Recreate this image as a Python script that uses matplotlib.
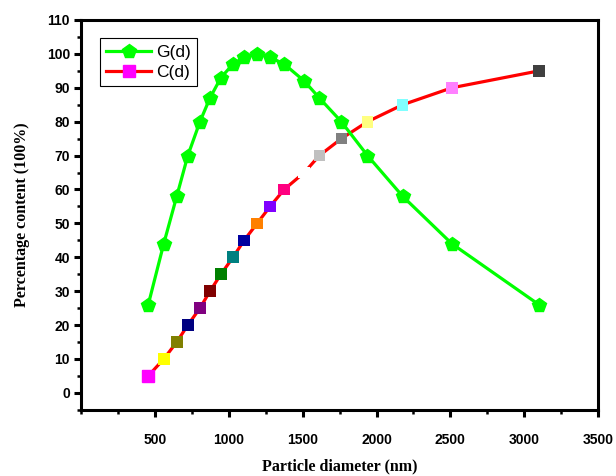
import matplotlib
matplotlib.use('Agg')
import matplotlib.pyplot as plt
from matplotlib.ticker import MultipleLocator

# particle diameter (nm)
diameter = [455, 560, 648, 723, 805, 873, 947, 1029, 1104, 1192,
            1280, 1375, 1511, 1613, 1762, 1939, 2177, 2510, 3100]
g_values = [26, 44, 58, 70, 80, 87, 93, 97, 99, 100,
            99, 97, 92, 87, 80, 70, 58, 44, 26]
c_values = [5, 10, 15, 20, 25, 30, 35, 40, 45, 50,
            55, 60, 65, 70, 75, 80, 85, 90, 95]
# Origin colour-increment list, starting at magenta
c_colors = ['#FF00FF', '#FFFF00', '#808000', '#000080', '#800080', '#800000',
            '#008000', '#008080', '#0000A0', '#FF8000', '#8000FF', '#FF0080',
            '#FFFFFF', '#C0C0C0', '#808080', '#FFFF80', '#80FFFF', '#FF80FF',
            '#404040']

x_ticks = [500, 1000, 1500, 2000, 2500, 3000, 3500]
y_ticks = list(range(0, 111, 10))

fig = plt.figure(figsize=(6.16, 4.76), dpi=100)
ax = fig.add_axes([0.1315, 0.139, 0.8395, 0.819])

ax.plot(diameter, g_values, color='#00FF00', lw=2.3, marker='p', ms=10,
        mfc='#00FF00', mec='#00FF00', label='G(d)', zorder=3)
# only the first marker here (it is magenta), the rest come from scatter
ax.plot(diameter, c_values, color='#FF0000', lw=2.3, marker='s', ms=8,
        mfc='#FF00FF', mec='#FF00FF', markevery=[0], label='C(d)', zorder=2)
ax.scatter(diameter, c_values, c=c_colors, marker='s', s=70, linewidths=0, zorder=4)

ax.set_xlim(0, 3500)
ax.set_ylim(-5, 110)
ax.set_xticks(x_ticks)
ax.set_yticks(y_ticks)
ax.xaxis.set_minor_locator(MultipleLocator(250))
ax.yaxis.set_minor_locator(MultipleLocator(5))

for side in ['left', 'right', 'top', 'bottom']:
    ax.spines[side].set_linewidth(2.2)

ax.tick_params(which='major', direction='out', length=5, width=2.2, pad=12)
ax.tick_params(axis='y', which='major', pad=3)
ax.tick_params(which='minor', direction='out', length=3, width=1.8)
for lbl in ax.get_xticklabels() + ax.get_yticklabels():
    lbl.set_fontfamily('Liberation Sans')
    lbl.set_fontweight('bold')
    lbl.set_fontsize(10)

ax.set_xlabel('Particle diameter (nm)', fontfamily='Liberation Serif',
              fontweight='bold', fontsize=11.5, labelpad=8)
ax.set_ylabel('Percentage content (100%)', fontfamily='Liberation Serif',
              fontweight='bold', fontsize=11.5, labelpad=12)

leg = ax.legend(loc='upper left', bbox_to_anchor=(0.02, 0.975), fancybox=False,
                edgecolor='black', framealpha=1, handlelength=2.6,
                borderpad=0.35, labelspacing=0.3, handletextpad=0.3,
                prop={'family': 'Liberation Sans', 'size': 12.5})
leg.get_frame().set_linewidth(0.8)

fig.savefig('out.png', dpi=100)
